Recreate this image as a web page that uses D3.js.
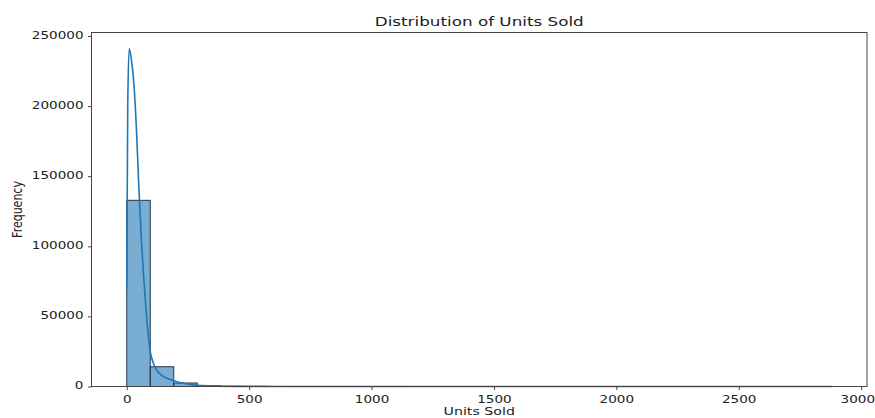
<!DOCTYPE html>
<html>
<head>
<meta charset="utf-8">
<script src="https://cdn.jsdelivr.net/npm/d3@7"></script>
<style>
  html, body { margin: 0; padding: 0; background: #fff; }
  svg { display: block; }
  text { font-family: "DejaVu Sans", sans-serif; }
</style>
</head>
<body>
<svg id="chart" width="875" height="418"></svg>
<script>
// Histogram bins (units sold, bin width 96) and their counts
const binEdges = d3.range(0, 2881, 96);
const binCounts = [132800, 14100, 2500, 520, 160, 60, 30, 15, 10, 6, 4, 3, 2, 2, 1, 1, 1, 1, 1, 0, 1, 0, 0, 1, 0, 0, 0, 0, 0, 1];

// Kernel density estimate, scaled to counts
const kdeX = [0, 4, 10, 20, 30, 40, 50, 60, 70, 80, 95, 110, 130, 160, 190, 230, 280, 350, 450, 600, 800, 1200, 2000, 2880];
const kdeY = [70000, 200000, 241000, 232000, 214000, 182000, 140000, 104000, 76000, 52000, 26000, 16000, 10000, 6200, 4300, 2300, 1000, 400, 120, 40, 10, 3, 1, 0];

const xTicks = [0, 500, 1000, 1500, 2000, 2500, 3000];
const yTicks = [0, 50000, 100000, 150000, 200000, 250000];

const title = "Distribution of Units Sold";
const xLabel = "Units Sold";
const yLabel = "Frequency";

// text is drawn wide: horizontal stretch factor for all labels
const stretch = 1.29;

const W = 875;
const svg = d3.select("#chart");
const m = { left: 91.5, right: 867, top: 32.5, bottom: 386.5 };

const x = d3.scaleLinear().domain([-144, 3024]).range([m.left, m.right]);
const y = d3.scaleLinear().domain([0, 252500]).range([m.bottom, m.top]);

const bins = binCounts.map((c, i) => ({ x0: binEdges[i], x1: binEdges[i + 1], count: c }));

// bars
svg.append("g")
  .selectAll("rect")
  .data(bins)
  .join("rect")
  .attr("x", d => x(d.x0))
  .attr("width", d => x(d.x1) - x(d.x0))
  .attr("y", d => y(d.count))
  .attr("height", d => y(0) - y(d.count))
  .attr("fill", "rgba(31,119,180,0.6)")
  .attr("stroke", "#22374a")
  .attr("stroke-width", 1);

// KDE curve
const kde = kdeX.map((v, i) => [v, kdeY[i]]);
svg.append("path")
  .datum(kde)
  .attr("fill", "none")
  .attr("stroke", "#1f77b4")
  .attr("stroke-width", 1.6)
  .attr("d", d3.line().x(d => x(d[0])).y(d => y(d[1])).curve(d3.curveMonotoneX));

// axes
const xAxis = svg.append("g")
  .attr("transform", `translate(0,${m.bottom})`)
  .call(d3.axisBottom(x).tickValues(xTicks).tickSize(3.5).tickPadding(5.5).tickFormat(d3.format("d")).tickSizeOuter(0));
const yAxis = svg.append("g")
  .attr("transform", `translate(${m.left},0)`)
  .call(d3.axisLeft(y).tickValues(yTicks).tickSize(3.5).tickPadding(4).tickFormat(d3.format("d")).tickSizeOuter(0));

[xAxis, yAxis].forEach(g => {
  g.select(".domain").remove();
  g.selectAll(".tick line").attr("stroke", "#444");
  g.selectAll(".tick text").attr("fill", "#222")
    .style("font-size", "10.5px").style("font-family", "DejaVu Sans, sans-serif");
});
xAxis.selectAll(".tick text").attr("transform", `scale(${stretch},1)`);
// keep the last x tick label inside the right edge of the canvas
xAxis.selectAll(".tick text").filter(d => d === xTicks[xTicks.length - 1])
  .attr("text-anchor", "end")
  .attr("x", (W - 0.5 - x(xTicks[xTicks.length - 1])) / stretch);
yAxis.selectAll(".tick text")
  .attr("x", -8 / stretch)
  .attr("dy", "0.22em")
  .attr("transform", `scale(${stretch},1)`);

// frame
svg.append("rect")
  .attr("x", m.left).attr("y", m.top)
  .attr("width", m.right - m.left).attr("height", m.bottom - m.top)
  .attr("fill", "none").attr("stroke", "#444").attr("stroke-width", 1);

// labels
const cx = (m.left + m.right) / 2;
svg.append("text")
  .attr("transform", `translate(${cx},25.5) scale(${stretch},1)`)
  .attr("text-anchor", "middle").attr("fill", "#222")
  .style("font-size", "13px").text(title);

svg.append("text")
  .attr("transform", `translate(${cx},415) scale(${stretch},1)`)
  .attr("text-anchor", "middle").attr("fill", "#222")
  .style("font-size", "11px").text(xLabel);

svg.append("text")
  .attr("transform", `translate(22,${(m.top + m.bottom) / 2}) rotate(-90) scale(1,${stretch})`)
  .attr("text-anchor", "middle").attr("fill", "#222")
  .style("font-size", "11px").text(yLabel);
</script>
</body>
</html>
